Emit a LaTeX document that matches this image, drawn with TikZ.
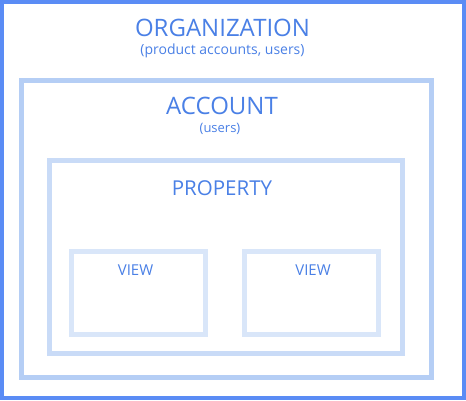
\documentclass[tikz,border=0pt]{standalone}
\usepackage{fontspec}
\setmainfont{Open Sans}
\usetikzlibrary{calc}
\definecolor{orgblue}{HTML}{5A8CF5}
\definecolor{accblue}{HTML}{B5CEF5}
\definecolor{propblue}{HTML}{C9DBF7}
\definecolor{viewblue}{HTML}{D9E6F9}
\definecolor{txtblue}{HTML}{4A80E6}
\tikzset{
	title/.style={color=txtblue, anchor=base, inner sep=0pt},
	sub/.style={color=txtblue, anchor=base, inner sep=0pt}
}

\begin{document}
\begin{tikzpicture}[x=1pt, y=-1pt]
		%%%%% START %%%%%
		\useasboundingbox (0, 0) rectangle (466, 400);
		
		\fill[white] (0, 0) rectangle (466, 400);
		\draw[line width=4pt, color=orgblue] (2, 2) rectangle (464, 398);
		
		\draw[line width=5pt, color=accblue] (21.5, 80.5) rectangle (431, 377.5);
		\draw[line width=5pt, color=propblue] (49.5, 160.5) rectangle (402, 353);
		
		\draw[line width=5pt, color=viewblue] (71.5, 251.5) rectangle (205, 334);
		\draw[line width=5pt, color=viewblue] (244.5, 251.5) rectangle (378.5, 334);
		
		\node[title, font=\fontsize{24}{28}\selectfont] (org) at (222.5, 36.5) {ORGANIZATION};
		\node[sub, font=\fontsize{14}{16}\selectfont] (orgsub) at (222.5, 54) {(product accounts, users)};
		
		\node[title, font=\fontsize{24}{28}\selectfont] (acc) at (222, 114) {ACCOUNT};
		\node[sub, font=\fontsize{13}{15}\selectfont] (accsub) at (220, 132) {(users)};
		
		\node[title, font=\fontsize{20.5}{24}\selectfont] (prop) at (222, 195) {PROPERTY};
		
		\node[title, font=\fontsize{15}{18}\selectfont] (viewa) at (135.5, 275) {VIEW};
		\node[title, font=\fontsize{15}{18}\selectfont] (viewb) at (313, 275) {VIEW};
		%%%%% END %%%%%
\end{tikzpicture}
\end{document}
